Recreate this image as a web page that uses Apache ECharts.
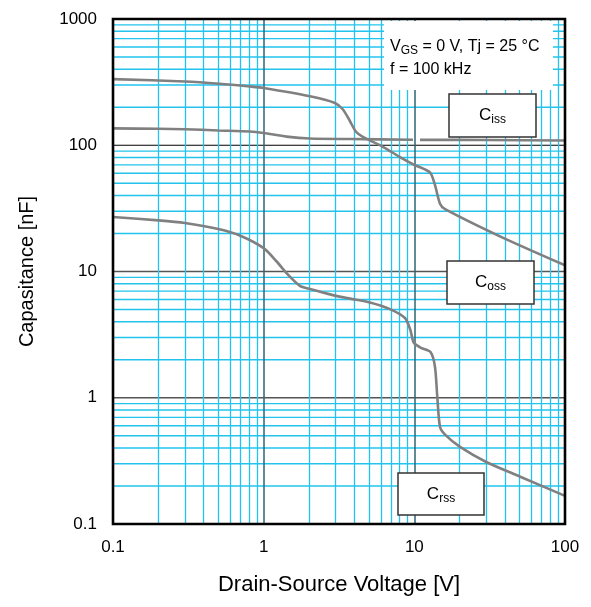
<!DOCTYPE html>
<html>
<head>
<meta charset="utf-8">
<script src="https://cdn.jsdelivr.net/npm/echarts@6/dist/echarts.min.js"></script>
<style>
html,body{margin:0;padding:0;background:#fff;}
#chart{width:591px;height:607px;}
</style>
</head>
<body>
<div id="chart"></div>
<script>
// ---- data (V [V], C [nF]) ----
var cissData = [[0.1,136],[0.2,135],[0.3,134],[0.5,131],[0.81,128.5],[1,125],[1.42,117],[2.03,113],[3.74,112],[9.8,110.6],[10.3,'-'],[10.9,110.4],[30,110],[100,109]];
var cossData = [[0.1,334],[0.3,320],[0.51,307],[0.81,292],[1,284],[2.03,244],[2.97,216],[3.37,191],[3.74,155],[4.1,128],[4.58,116],[6.22,96.8],[8.02,80.7],[10,70],[12.7,60.9],[13.7,48.5],[14.8,34.4],[16,31.2],[37,19],[100,11.2]];
var crssData = [[0.1,27],[0.2,25.4],[0.3,24.2],[0.5,21.7],[0.7,19.2],[1,15.3],[1.22,12],[1.42,9.7],[1.74,7.7],[2.03,7.26],[2.88,6.5],[3.74,6.1],[5.07,5.69],[6.89,5.04],[8.67,4.28],[9.4,3.46],[9.9,2.74],[11.1,2.48],[12.8,2.3],[13.7,1.77],[14.2,1.02],[14.8,0.59],[16,0.51],[20,0.41],[30,0.31],[50,0.238],[100,0.167]];
var xTickLabels = ['0.1','1','10','100'];
var yTickLabels = ['0.1','1','10','100','1000'];
var xDecades = [0.1,1,10];
var yDecades = [0.1,1,10,100];

// ---- grid lines ----
var cyan = '#22c4ee';
var minorStyle = {color:cyan, width:1.3, type:'solid', opacity:1};
var minorXVals = [], minorYVals = [];
xDecades.forEach(function(d){ for (var k=2;k<=9;k++) minorXVals.push(+(d*k).toPrecision(3)); });
yDecades.forEach(function(d){ for (var k=2;k<=9;k++) minorYVals.push(+(d*k).toPrecision(3)); });

function vLines(vals, style, z){
  return {type:'line', data:[], silent:true, z:z, markLine:{silent:true, symbol:'none', animation:false,
    label:{show:false}, emphasis:{disabled:true}, lineStyle:style,
    data: vals.map(function(v){ return {xAxis:v}; })}};
}
function hLine(v, style, z){
  return {type:'line', data:[[0.1,v],[100,v]], silent:true, z:z, showSymbol:false, symbol:'none',
    lineStyle:style, emphasis:{disabled:true}, animation:false, tooltip:{show:false}};
}
var gridSeries = [vLines(minorXVals, minorStyle, 1)];
minorYVals.forEach(function(v){ gridSeries.push(hLine(v, minorStyle, 1)); });
gridSeries.push(vLines([1,10], {color:'#2b6575', width:1.5, type:'solid', opacity:1}, 2));
gridSeries.push(hLine(1, {color:'#555', width:1.5, type:'solid'}, 2));
gridSeries.push(hLine(10, {color:'#555', width:1.5, type:'solid'}, 2));
gridSeries.push(hLine(100, {color:'#000', width:1.2, type:'solid'}, 2));

function curve(name, data){
  return {name:name, type:'line', data:data, showSymbol:false, smooth:0.25, z:5,
    connectNulls:false, lineStyle:{color:'#808080', width:2.6}, animation:false};
}

var GL=113, GT=19, GW=452, GH=505;
var font = '"Liberation Sans", Arial, sans-serif';

function labelBox(x, y, w, h, sub){
  return [
    {type:'rect', z:20, shape:{x:x,y:y,width:w,height:h}, style:{fill:'#fff', stroke:'#333', lineWidth:1.5}},
    {type:'text', z:21, x:x+w/2, y:y+h/2, style:{
      text:'{c|C}{s|'+sub+'}', align:'center', verticalAlign:'middle', fontFamily:font,
      rich:{c:{fontSize:17, fontFamily:font, fill:'#000'}, s:{fontSize:12, fontFamily:font, fill:'#000', padding:[9,0,0,0]}}}}
  ];
}

var option = {
  animation:false,
  backgroundColor:'#fff',
  grid:{left:GL, top:GT, width:GW, height:GH, show:false},
  xAxis:{type:'log', logBase:10, min:0.1, max:100,
    name:'Drain-Source Voltage [V]', nameLocation:'middle', nameGap:50,
    nameTextStyle:{fontSize:22, fontFamily:font, color:'#000'},
    axisLine:{show:false}, axisTick:{show:false}, splitLine:{show:false},
    axisLabel:{fontSize:17, fontFamily:font, color:'#000', margin:15,
      formatter:function(v){ var i=Math.round(Math.log10(v))+1; return xTickLabels[i]; }}},
  yAxis:{type:'log', logBase:10, min:0.1, max:1000,
    name:'Capasitance [nF]', nameLocation:'middle', nameGap:76, nameRotate:90,
    nameTextStyle:{fontSize:20, fontFamily:font, color:'#000'},
    axisLine:{show:false}, axisTick:{show:false}, splitLine:{show:false},
    axisLabel:{fontSize:17, fontFamily:font, color:'#000', margin:16,
      formatter:function(v){ var i=Math.round(Math.log10(v))+1; return yTickLabels[i]; }}},
  series: gridSeries.concat([curve('Ciss', cissData), curve('Coss', cossData), curve('Crss', crssData)]),
  graphic:[
    {type:'rect', z:15, shape:{x:384, y:21, width:169, height:69}, style:{fill:'#fff'}},
    {type:'text', z:16, x:390, y:47, style:{text:'{n|V}{s|GS}{n| = 0 V, Tj = 25 °C}', verticalAlign:'middle', fontFamily:font,
      rich:{n:{fontSize:16, fontFamily:font, fill:'#000'}, s:{fontSize:12, fontFamily:font, fill:'#000', padding:[7,0,0,0]}}}},
    {type:'text', z:16, x:390, y:70, style:{text:'f = 100 kHz', verticalAlign:'middle', fontSize:16, fontFamily:font, fill:'#000'}}
  ].concat(labelBox(449,94,87,43,'iss'), labelBox(447,261,87,43,'oss'), labelBox(398,473,86,42,'rss'), [
    {type:'rect', z:30, shape:{x:GL, y:GT, width:GW, height:GH}, style:{fill:'none', stroke:'#000', lineWidth:2.6}}
  ])
};
var chart = echarts.init(document.getElementById('chart'), null, {renderer:'canvas'});
chart.setOption(option);
</script>
</body>
</html>
